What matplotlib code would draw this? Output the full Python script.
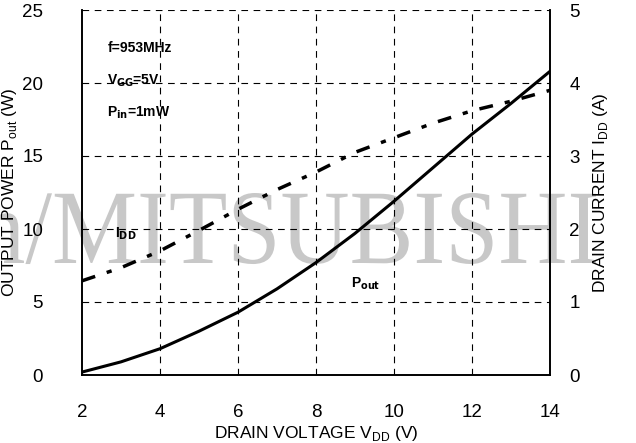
import numpy as np
import matplotlib.pyplot as plt
from matplotlib.textpath import TextPath
from matplotlib.patches import PathPatch
from matplotlib.font_manager import FontProperties
from matplotlib.transforms import Affine2D, IdentityTransform

plt.rcParams['font.family'] = ['Liberation Sans', 'DejaVu Sans']

# data
vdd = [2, 3, 4, 5, 6, 7, 8, 9, 10, 11, 12, 13, 14]
pout = [0.2, 0.9, 1.8, 3.0, 4.3, 5.9, 7.7, 9.7, 11.9, 14.2, 16.5, 18.6, 20.8]
idd = [1.29, 1.47, 1.7, 1.98, 2.27, 2.54, 2.78, 3.05, 3.25, 3.45, 3.62, 3.75, 3.9]

xticks = [2, 4, 6, 8, 10, 12, 14]
yticks_l = [0, 5, 10, 15, 20, 25]
yticks_r = [0, 1, 2, 3, 4, 5]

fig = plt.figure(figsize=(6.36, 4.43), dpi=100)
ax = fig.add_axes([82/636, 68/443, 468/636, 365/443])
ax.set_facecolor('none')

# watermark behind the plot (condensed serif text, drawn as a path)
fp = FontProperties(family='Liberation Serif')
full = TextPath((0, 0), 'm/MITSUBISHI', size=100, prop=fp)
word = TextPath((0, 0), 'MITSUBISHI', size=100, prop=fp)
x_end = full.vertices[:, 0].max()
x_start = x_end - (word.vertices[:, 0].max() - word.vertices[:, 0].min())
cap = word.vertices[:, 1].max()
sx = 544 / (x_end - x_start)
sy = 70 / cap
tr = Affine2D().translate(-x_start, 0).scale(sx, sy).translate(52, 443 - 263)
wm = PathPatch(tr.transform_path(full), facecolor='#c8c8c8', edgecolor='none',
               transform=IdentityTransform(), zorder=-1)
fig.patches.append(wm)
wm.set_figure(fig)

ax.plot(vdd, pout, color='black', lw=2.2, zorder=3)

ax2 = ax.twinx()
ax2.plot(vdd, idd, color='black', lw=2.5, linestyle=(0, (4, 3.5, 1.5, 3.5)), zorder=3)

ax.set_xlim(2, 14)
ax.set_ylim(0, 25)
ax2.set_ylim(0, 5)
ax.set_xticks(xticks)
ax.set_yticks(yticks_l)
ax2.set_yticks(yticks_r)

for g in xticks[1:-1]:
    ax.axvline(g, color='black', lw=0.8, ls=(0, (6, 5)), zorder=1)
for g in yticks_l[1:]:
    ax.axhline(g, color='black', lw=0.8, ls=(0, (6, 5)), zorder=1)

ax.spines['top'].set_visible(False)
ax2.spines['top'].set_visible(False)
for a in (ax, ax2):
    a.tick_params(length=0, labelsize=13.5)
    for s in ('left', 'right', 'bottom'):
        a.spines[s].set_linewidth(1.2)
ax.tick_params(axis='y', pad=28)
ax.tick_params(axis='x', pad=21)
ax2.tick_params(axis='y', pad=14)

ax.set_xlabel('DRAIN VOLTAGE V$_{\\mathregular{DD}}$ (V)', fontsize=12.5, labelpad=2)
ax.set_ylabel('OUTPUT POWER P$_{\\mathregular{out}}$ (W)', fontsize=12.5, labelpad=2)
ax2.set_ylabel('DRAIN CURRENT I$_{\\mathregular{DD}}$ (A)', fontsize=12.5, labelpad=8)

ax.text(2.65, 22.1, 'f=953MHz', fontsize=10, fontweight='bold')
ax.text(2.65, 19.9, 'V$_{\\mathbf{GG}}$=5V', fontsize=10, fontweight='bold')
ax.text(2.65, 17.7, 'P$_{\\mathbf{in}}$=1mW', fontsize=10, fontweight='bold')
ax.text(2.85, 9.4, 'I$_{\\mathbf{DD}}$', fontsize=10, fontweight='bold')
ax.text(8.9, 6.0, 'P$_{\\mathbf{out}}$', fontsize=10, fontweight='bold')

fig.savefig('out.png', dpi=100)
